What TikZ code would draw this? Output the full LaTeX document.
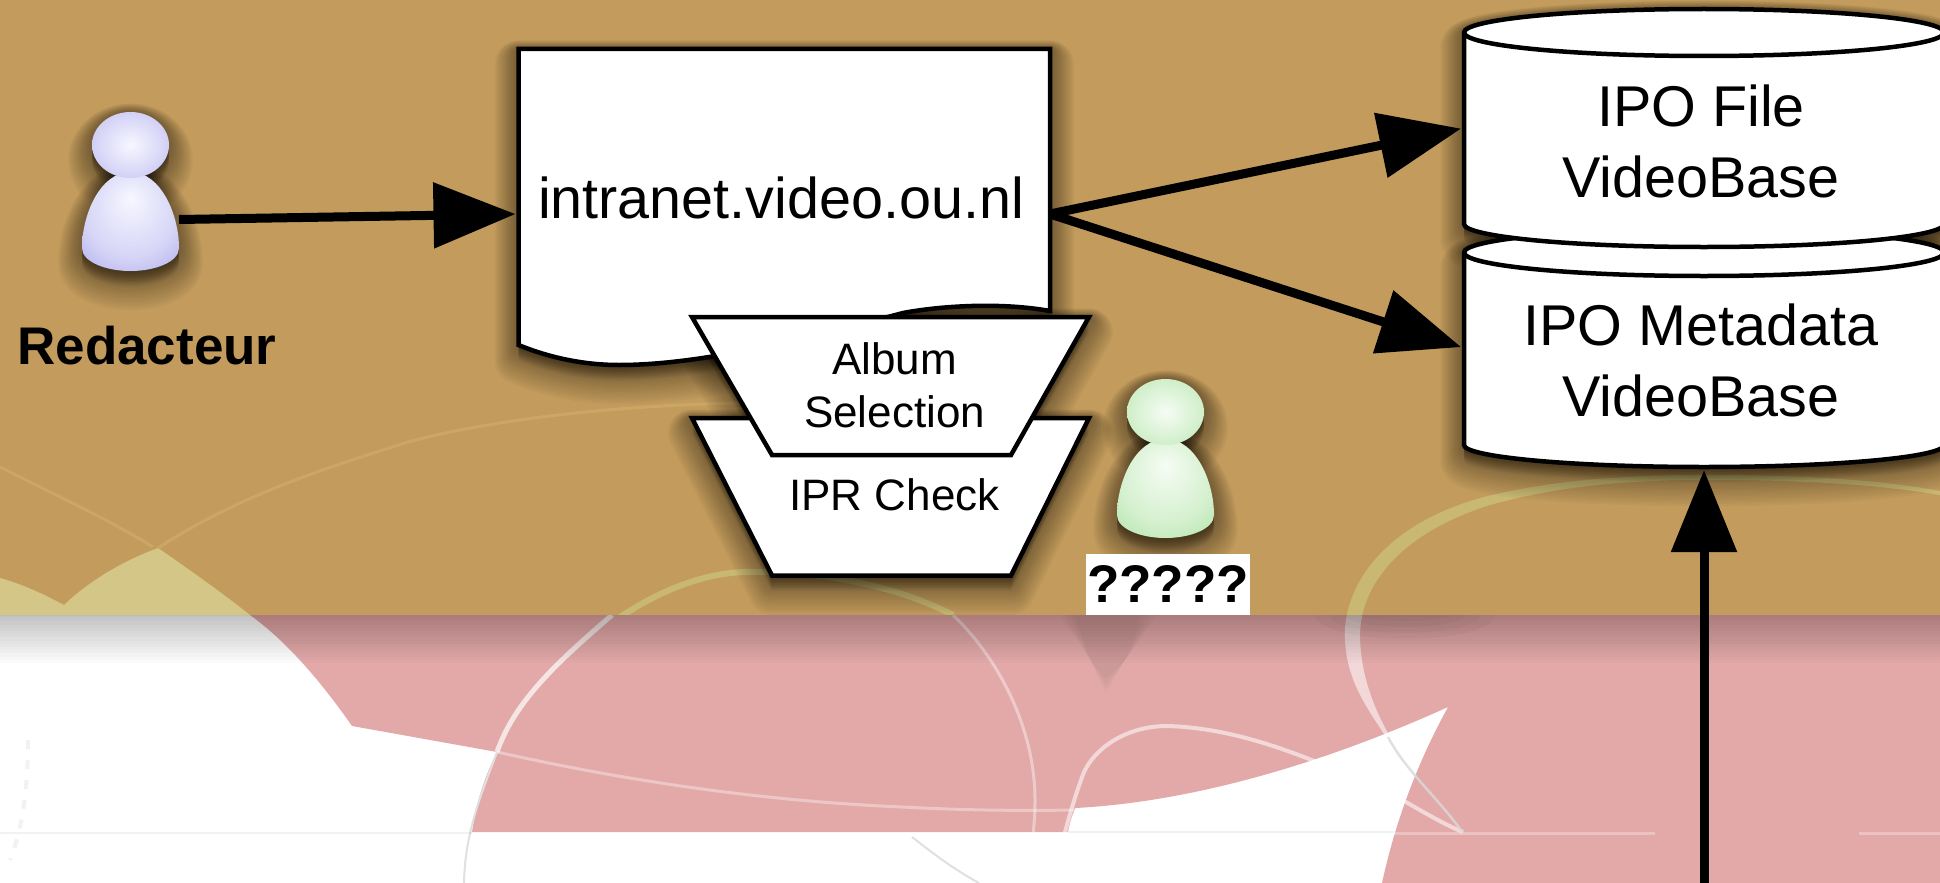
\documentclass[tikz,border=0pt]{standalone}
\usepackage{fontspec}
\setmainfont{Liberation Sans}
\usetikzlibrary{arrows.meta,calc}
\definecolor{tanbg}{HTML}{C39C5D}
\definecolor{pinkbg}{HTML}{E3A9A9}
\definecolor{paleyel}{HTML}{D3C686}
\definecolor{tanline}{HTML}{CBA766}
\definecolor{yelline}{HTML}{C8B873}
\definecolor{bluea}{HTML}{F7F7FF}
\definecolor{blueb}{HTML}{D6D5F7}
\definecolor{bluec}{HTML}{A9A5E8}
\definecolor{greena}{HTML}{F6FCF4}
\definecolor{greenb}{HTML}{D4F0CE}
\definecolor{greenc}{HTML}{ABE0A3}
\pgfdeclareradialshading{bluehead}{\pgfpoint{0bp}{0bp}}{color(0bp)=(bluea); color(22bp)=(blueb); color(50bp)=(bluec)}
\pgfdeclareradialshading{bluebody}{\pgfpoint{0bp}{12bp}}{color(0bp)=(bluea); color(24bp)=(blueb); color(42bp)=(bluec); color(50bp)=(bluec)}
\pgfdeclareradialshading{greenhead}{\pgfpoint{0bp}{0bp}}{color(0bp)=(greena); color(22bp)=(greenb); color(50bp)=(greenc)}
\pgfdeclareradialshading{greenbody}{\pgfpoint{0bp}{12bp}}{color(0bp)=(greena); color(24bp)=(greenb); color(42bp)=(greenc); color(50bp)=(greenc)}
\tikzset{
  outline/.style={draw=black,line width=4.5pt,line join=miter,fill=white},
  flow/.style={draw=black,line width=9pt,-{Triangle[length=82pt,width=64pt]},shorten >=3pt},
  anchorbox/.style={inner sep=0pt,outer sep=0pt,draw=none},
  bigtext/.style={font=\fontsize{57.5}{71}\selectfont,align=center,inner sep=0pt},
  smalltext/.style={font=\fontsize{44}{53}\selectfont,align=center,inner sep=0pt},
  boldtext/.style={font=\fontsize{53}{60}\selectfont\bfseries,inner sep=0pt},
  docpath/.style={insert path={(518.5,49) -- (1050,49) -- (1050,311) .. controls (1000,302) and (940,306) .. (903,313) .. controls (800,340) and (700,365) .. (619,365) .. controls (590,365) and (555,360) .. (518.5,345) -- cycle}},
  albumpath/.style={insert path={(692,317) -- (1089,317) -- (1011,455) -- (772,455) -- cycle}},
  iprpath/.style={insert path={(692,418) -- (1089,418) -- (1011,575.5) -- (772,575.5) -- cycle}},
  cylonepath/.style={insert path={(1464,32.5) -- (1464,224) .. controls (1464,236.7) and (1571.5,247) .. (1704,247) .. controls (1836.5,247) and (1944,236.7) .. (1944,224) -- (1944,32.5) .. controls (1944,19.5) and (1836.5,9) .. (1704,9) .. controls (1571.5,9) and (1464,19.5) .. (1464,32.5) -- cycle}},
  cylonetop/.style={insert path={(1464,32.5) .. controls (1464,45.5) and (1571.5,56) .. (1704,56) .. controls (1836.5,56) and (1944,45.5) .. (1944,32.5)}},
  cyltwopath/.style={insert path={(1464,252.5) -- (1464,445) .. controls (1464,457) and (1571.5,467) .. (1704,467) .. controls (1836.5,467) and (1944,457) .. (1944,445) -- (1944,252.5) .. controls (1944,239.5) and (1836.5,229) .. (1704,229) .. controls (1571.5,229) and (1464,239.5) .. (1464,252.5) -- cycle}},
  cyltwotop/.style={insert path={(1464,252.5) .. controls (1464,265.5) and (1571.5,276) .. (1704,276) .. controls (1836.5,276) and (1944,265.5) .. (1944,252.5)}},
  bodypath/.style={insert path={(82,248) .. controls (82,215) and (100,172) .. (130.5,172) .. controls (161,172) and (179,215) .. (179,248) .. controls (179,262) and (155,271) .. (130.5,271) .. controls (106,271) and (82,262) .. (82,248) -- cycle}},
  headpath/.style={insert path={(130.5,145) ellipse [x radius=38.5pt,y radius=33pt]}},
  rightarc/.style={insert path={(1345,640) .. controls (1342,590) and (1380,525) .. (1484,497) .. controls (1560,478) and (1640,475) .. (1704,475) .. controls (1790,475) and (1870,478) .. (1940,491) -- (1940,495) .. controls (1870,483) and (1790,480) .. (1704,480) .. controls (1640,480) and (1565,484) .. (1490,505) .. controls (1395,535) and (1358,590) .. (1360,640) .. controls (1362,680) and (1375,710) .. (1390,737) -- (1386,737) .. controls (1365,705) and (1347,680) .. (1345,640) -- cycle}},
}
\newcommand{\softshadow}[1]{%
  \foreach \w in {6,9,...,48}{%
    \path[draw=black,fill=black,opacity=.027,line width=\w pt,line join=round,yshift=-0.32*\w pt,#1];
  }%
}
\begin{document}
\begin{tikzpicture}[x=1pt,y=-1pt]
\useasboundingbox (0,0) rectangle (1940,883);
% background
\fill[white] (0,0) rectangle (1940,883);
\fill[pinkbg] (250,615) .. controls (285,640) and (320,680) .. (352,726) -- (497,752) .. controls (483,780) and (476,805) .. (472,832) -- (1068,832) .. controls (1070,822) and (1072,815) .. (1075.5,808) .. controls (1190,802) and (1320,765) .. (1448,707) .. controls (1430,740) and (1400,800) .. (1382,883) -- (1940,883) -- (1940,615) -- cycle;
\fill[tanbg] (0,0) rectangle (1940,615);
\fill[paleyel] (0,578) .. controls (25,585) and (45,595) .. (64,605) .. controls (90,580) and (125,560) .. (158,548) .. controls (190,570) and (225,595) .. (250,615) -- (0,615) -- cycle;
% thin lines on tan
\draw[tanline,line width=3pt] (0,467) .. controls (55,495) and (110,520) .. (153,547);
\draw[tanline,line width=3pt] (158,548) .. controls (240,495) and (320,470) .. (408,442) .. controls (510,415) and (640,405) .. (740,403);
% arcs on the tan band
\begin{scope}
\clip (0,0) rectangle (1940,615);
\draw[yelline,line width=6pt] (497,752) .. controls (530,680) and (640,575) .. (745,572) .. controls (830,570) and (905,590) .. (953,615);
\fill[yelline,rightarc];
\end{scope}
% lighter lines below
\begin{scope}
\clip (0,615) rectangle (1940,883);
\draw[white,opacity=.7,line width=5pt] (612,615) .. controls (560,660) and (515,700) .. (497,752);
\draw[white!88!black,line width=2pt] (497,752) .. controls (483,790) and (465,830) .. (464,883);
\draw[white,opacity=.35,line width=3pt] (497,752) .. controls (600,775) and (740,800) .. (902,807) .. controls (960,810) and (1010,811) .. (1075,810);
\draw[white,opacity=.4,line width=3pt] (953,615) .. controls (1000,660) and (1035,730) .. (1035,800) .. controls (1035,840) and (1028,865) .. (1019,883);
\draw[white!88!black,line width=2pt] (912,837) .. controls (935,855) and (955,870) .. (979,883);
\draw[white,opacity=.55,line width=4pt] (1050,883) .. controls (1062,850) and (1065,825) .. (1081,780) .. controls (1090,750) and (1125,726) .. (1167,726) .. controls (1240,728) and (1310,757) .. (1397,797) .. controls (1420,810) and (1445,825) .. (1463,832);
\draw[black,opacity=.05,line width=2pt] (1068,832) -- (1394,832);
\draw[black,opacity=.05,line width=2pt] (0,833) -- (472,833);
\draw[white,opacity=.3,line width=3pt] (1394,833) -- (1655,833) (1859,833) -- (1940,833);
\fill[white,opacity=.55,rightarc];
\draw[black!15!white,opacity=.8,line width=2.5pt] (1388,737) .. controls (1405,770) and (1440,800) .. (1463,833);
\draw[black!5!white,line width=4pt,dash pattern=on 9pt off 11pt] (28,740) .. controls (28,790) and (22,830) .. (10,860);
\foreach \i in {1,...,15}{\fill[black,opacity=.015] (0,615) rectangle (1940,615+3.2*\i);}
\foreach \w in {0,5,10,15}{\fill[black,opacity=.025] (1075-\w,615) -- (1140+\w,615) .. controls (1135,650) and (1118,670) .. (1106,693-\w) .. controls (1095,670) and (1085,650) .. (1075-\w,615) -- cycle;}
\foreach \d in {6,12,18,24}{\fill[black,opacity=.025] (1405,615) ellipse [x radius=30pt+2.5pt*\d,y radius=\d pt];}
\end{scope}
% shadows
\softshadow{docpath}
\softshadow{iprpath}
\softshadow{albumpath}
\softshadow{cyltwopath}
\softshadow{cylonepath}
\softshadow{bodypath}
\softshadow{headpath}
\begin{scope}[shift={(1035,267)}]
\softshadow{bodypath}
\softshadow{headpath}
\end{scope}
% persons
\path[shading=bluebody,bodypath];
\path[shading=bluehead,headpath];
\begin{scope}[shift={(1035,267)}]
\path[shading=greenbody,bodypath];
\path[shading=greenhead,headpath];
\end{scope}
\node[anchorbox,minimum width=97pt,minimum height=103pt] (redac) at (130.5,219.5) {};
% shapes
\path[outline,docpath];
\node[anchorbox,minimum width=531.5pt,minimum height=330pt] (doc) at (784.25,214) {};
\node[bigtext] (doctext) at (781,198) {intranet.video.ou.nl};
\path[outline,cyltwopath];
\draw[black,line width=4.5pt,cyltwotop];
\node[anchorbox,minimum width=480pt,minimum height=238pt] (cyltwo) at (1704,348) {};
\path[outline,cylonepath];
\draw[black,line width=4.5pt,cylonetop];
\node[anchorbox,minimum width=480pt,minimum height=238pt] (cylone) at (1704,128) {};
\path[outline,iprpath];
\path[outline,albumpath];
% texts
\node[bigtext] (fileT) at (1701,141.5) {IPO File\\VideoBase};
\node[bigtext] (metaT) at (1701,360.5) {IPO Metadata\\VideoBase};
\node[smalltext] (albumT) at (894.5,385.5) {Album\\Selection};
\node[smalltext] (iprT) at (894.5,495) {IPR Check};
\node[boldtext] (redacT) at (147,346) {Redacteur};
\node[fill=white,inner sep=0pt,minimum width=164pt,minimum height=61.5pt,font=\fontsize{53}{60}\selectfont\bfseries] (unknown) at (1168,584.25) {?????};
% connectors
\coordinate (upstart) at (1704,890);
\draw[flow] (redac.east) -- (doc.west);
\draw[flow] (doc.east) -- (cylone.west);
\draw[flow] (doc.east) -- (cyltwo.west);
\draw[flow] (upstart) -- (cyltwo.south);
\end{tikzpicture}
\end{document}
